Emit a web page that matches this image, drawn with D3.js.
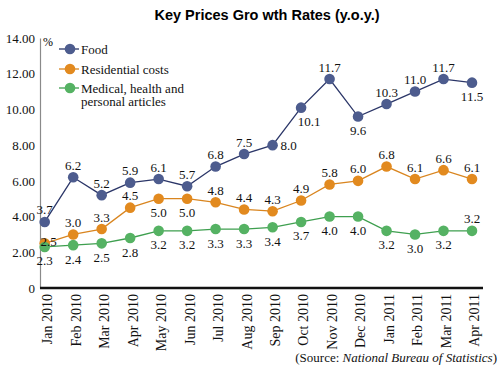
<!DOCTYPE html>
<html>
<head>
<meta charset="utf-8">
<script src="https://cdn.jsdelivr.net/npm/d3@7"></script>
<style>
  body { margin: 0; background: #fff; }
  svg { display: block; }
</style>
</head>
<body>
<svg id="chart" width="500" height="372"></svg>
<script>
const months = [
	'Jan 2010', 'Feb 2010', 'Mar 2010', 'Apr 2010', 'May 2010', 'Jun 2010',
	'Jul 2010', 'Aug 2010', 'Sep 2010', 'Oct 2010', 'Nov 2010', 'Dec 2010',
	'Jan 2011', 'Feb 2011', 'Mar 2011', 'Apr 2011'
];

const food = [3.7, 6.2, 5.2, 5.9, 6.1, 5.7, 6.8, 7.5, 8.0, 10.1, 11.7, 9.6, 10.3, 11.0, 11.7, 11.5];
const residential = [2.5, 3.0, 3.3, 4.5, 5.0, 5.0, 4.8, 4.4, 4.3, 4.9, 5.8, 6.0, 6.8, 6.1, 6.6, 6.1];
const medical = [2.3, 2.4, 2.5, 2.8, 3.2, 3.2, 3.3, 3.3, 3.4, 3.7, 4.0, 4.0, 3.2, 3.0, 3.2, 3.2];

const yTicks = [0, 2, 4, 6, 8, 10, 12, 14];

// where each value label sits: a = above, b = below, r = right, br = below right, c = on the dot
const foodPos = ['a','a','a','a','a','a','a','a','r','br','a','b','a','a','a','b'];
const residentialPos = ['c','a','a','a','b','b','a','a','a','a','a','a','a','a','a','a'];
const medicalPos = ['b','b','b','b','b','b','b','b','b','b','b','b','b','b','b','a'];

const series = [
	{name: ['Food'], values: food, pos: foodPos, dot: '#4d5c8e', line: '#2b3668'},
	{name: ['Residential costs'], values: residential, pos: residentialPos, dot: '#e28a1f', line: '#d9851f'},
	{name: ['Medical, health and', 'personal articles'], values: medical, pos: medicalPos, dot: '#55b263', line: '#3e9f4f'}
];

const serifFont = '"Liberation Serif", "Tinos", "Times New Roman", Times, "DejaVu Serif", serif';

const svg = d3.select("#chart");

const x = d3.scalePoint()
	.domain(months)
	.range([44.7, 472]);

const y = d3.scaleLinear()
	.domain([0, 14])
	.range([288, 38]);

// title
svg.append("text")
	.attr("x", 267)
	.attr("y", 20)
	.attr("text-anchor", "middle")
	.style("font-family", "'Liberation Sans', Arial, sans-serif")
	.style("font-weight", "bold")
	.style("font-size", "14.5px")
	.text("Key Prices Gro wth Rates (y.o.y.)");

// y axis
const yAxisG = svg.append("g")
	.attr("transform", "translate(40,0)")
	.call(d3.axisLeft(y)
		.tickValues(yTicks)
		.tickSize(0)
		.tickPadding(5)
		.tickFormat(d => d === 0 ? "0" : d3.format(".2f")(d)))
	.attr("font-family", serifFont)
	.attr("font-size", 13);

yAxisG.select(".domain")
	.attr("stroke", "#8a8a8a")
	.attr("stroke-width", 1.2);

yAxisG.selectAll("text")
	.attr("fill", "#111");

svg.append("text")
	.attr("font-family", serifFont)
	.attr("x", 43)
	.attr("y", 46)
	.attr("font-size", 12)
	.text("%");

// x axis
const xAxisG = svg.append("g")
	.attr("transform", "translate(0," + y(0) + ")")
	.call(d3.axisBottom(x).tickSize(0))
	.attr("font-family", serifFont)
	.attr("font-size", 14);

xAxisG.select(".domain").remove();

xAxisG.selectAll("text")
	.attr("fill", "#111")
	.attr("transform", "rotate(-90)")
	.attr("text-anchor", "end")
	.attr("x", -6)
	.attr("y", 2)
	.attr("dy", "0.35em");

svg.append("line")
	.attr("x1", 40)
	.attr("x2", 483)
	.attr("y1", y(0))
	.attr("y2", y(0))
	.attr("stroke", "#111")
	.attr("stroke-width", 2.5);

// lines, dots and value labels
const line = d3.line()
	.x((d, i) => x(months[i]))
	.y(d => y(d));

const labelOffset = {
	a: [0, -12],
	b: [0, 14],
	r: [15, 0],
	br: [8, 14],
	c: [4, -2]
};

series.forEach(s => {
	svg.append("path")
		.datum(s.values)
		.attr("fill", "none")
		.attr("stroke", s.line)
		.attr("stroke-width", 1.3)
		.attr("d", line);

	svg.append("g")
		.selectAll("circle")
		.data(s.values)
		.join("circle")
		.attr("cx", (d, i) => x(months[i]))
		.attr("cy", d => y(d))
		.attr("r", 5.3)
		.attr("fill", s.dot);
});

series.forEach(s => {
	svg.append("g")
		.attr("font-family", serifFont)
		.attr("font-size", 13)
		.selectAll("text")
		.data(s.values)
		.join("text")
		.attr("x", (d, i) => x(months[i]) + labelOffset[s.pos[i]][0])
		.attr("y", (d, i) => y(d) + labelOffset[s.pos[i]][1])
		.attr("dy", "0.35em")
		.attr("text-anchor", (d, i) => s.pos[i] === 'r' ? "start" : "middle")
		.attr("dx", (d, i) => s.pos[i] === 'r' ? -7 : 0)
		.attr("fill", "#111")
		.text(d => d3.format(".1f")(d));
});

// legend
const legendY = [49, 69, 88];
const legend = svg.append("g")
	.attr("font-family", serifFont)
	.attr("font-size", 13);

series.forEach((s, i) => {
	legend.append("line")
		.attr("x1", 59)
		.attr("x2", 79)
		.attr("y1", legendY[i])
		.attr("y2", legendY[i])
		.attr("stroke", s.line)
		.attr("stroke-width", 1.3);

	legend.append("circle")
		.attr("cx", 70)
		.attr("cy", legendY[i])
		.attr("r", 5.3)
		.attr("fill", s.dot);

	legend.append("text")
		.attr("x", 81)
		.attr("y", legendY[i])
		.attr("fill", "#111")
		.selectAll("tspan")
		.data(s.name)
		.join("tspan")
		.attr("x", 81)
		.attr("dy", (d, j) => j === 0 ? "0.35em" : "13.5px")
		.text(d => d);
});

// source note
const source = svg.append("text")
	.attr("font-family", serifFont)
	.attr("font-size", 13)
	.attr("x", 497)
	.attr("y", 362)
	.attr("text-anchor", "end")
	.attr("fill", "#111");

source.append("tspan").text("(Source: ");
source.append("tspan").attr("font-style", "italic").text("National Bureau of Statistics");
source.append("tspan").text(")");
</script>
</body>
</html>
